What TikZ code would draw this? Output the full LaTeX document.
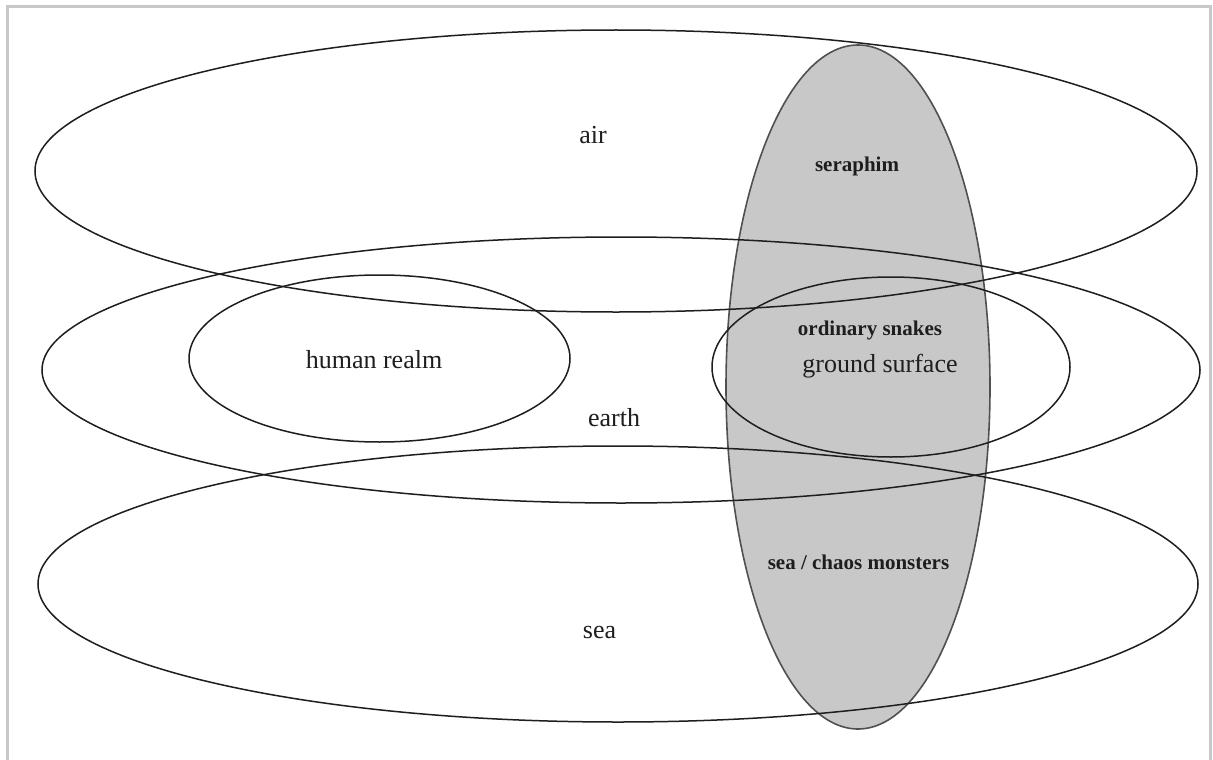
\documentclass[tikz,border=0pt]{standalone}
\usepackage{fontspec}
\setmainfont{Liberation Serif}
\definecolor{fillgray}{HTML}{C8C8C8}
\definecolor{edgegray}{HTML}{505050}
\definecolor{framegray}{HTML}{C8C8C8}
\definecolor{ink}{HTML}{1E1E1E}
\begin{document}
\begin{tikzpicture}[x=1pt,y=-1pt,
  realm/.style={draw=ink,line width=1.5pt},
  creature/.style={fill=fillgray,draw=edgegray,line width=1.6pt},
  big/.style={anchor=base,text=ink,font=\fontsize{26}{30}\selectfont},
  small/.style={anchor=base,text=ink,font=\fontsize{21}{25}\selectfont\bfseries},
  frameline/.style={draw=framegray,line width=3pt}]
\useasboundingbox (0,0) rectangle (1213,760);
\fill[white] (0,0) rectangle (1213,760);
% frame
\draw[frameline] (7,762) -- (7,7) -- (1210,7) -- (1210,762);
% gray creature ellipse
\draw[creature] (858,387) ellipse [x radius=132, y radius=342];
% realms
\draw[realm] (616,171) ellipse [x radius=581, y radius=141];
\draw[realm] (621,370) ellipse [x radius=579, y radius=133];
\draw[realm] (618,584) ellipse [x radius=580, y radius=138];
\draw[realm] (379.5,358.5) ellipse [x radius=190.5, y radius=83.5];
\draw[realm] (891,367) ellipse [x radius=179, y radius=90];
% labels
\node[big] (air) at (593,143) {air};
\node[big] (earth) at (614,426) {earth};
\node[big] (sea) at (599.5,638) {sea};
\node[big] (human) at (374,368) {human realm};
\node[big] (ground) at (880,372) {ground surface};
\node[small] (seraphim) at (857,171) {seraphim};
\node[small] (snakes) at (870,335) {ordinary snakes};
\node[small] (monsters) at (858.5,569) {sea / chaos monsters};
\end{tikzpicture}
\end{document}
